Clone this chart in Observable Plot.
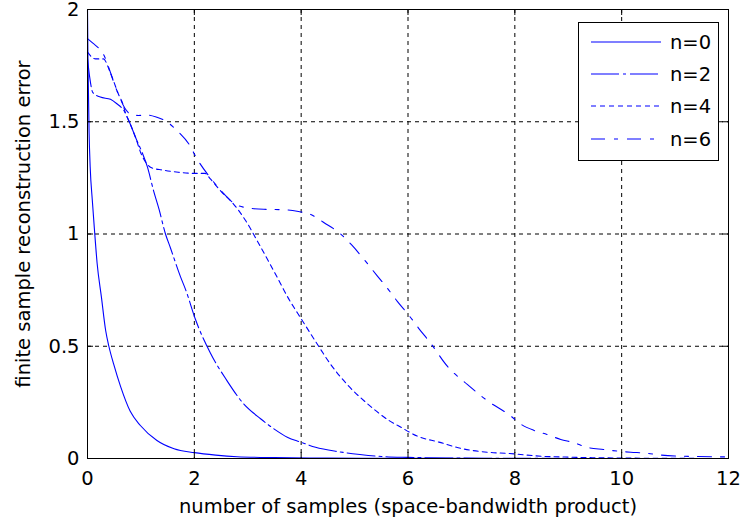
<!DOCTYPE html>
<html><head><meta charset="utf-8">
<script src="https://cdn.jsdelivr.net/npm/d3@7"></script>
<script src="https://cdn.jsdelivr.net/npm/@observablehq/plot@0.6"></script>
<style>
body{margin:0;background:#fff;}
#chart{position:relative;width:740px;height:530px;background:#fff;}
#legend{position:absolute;left:578px;top:22px;}
</style></head><body><div id="chart"></div>
<script>
const xTicks = [0, 2, 4, 6, 8, 10, 12];
const yTicks = [0, 0.5, 1, 1.5, 2];
const seriesNames = ["n=0", "n=2", "n=4", "n=6"];
const xLabel = "number of samples (space-bandwidth product)";
const yLabel = "finite sample reconstruction error";

const n0x = [0, 0.01, 0.03, 0.05, 0.09, 0.13, 0.18, 0.26, 0.34, 0.40, 0.49, 0.62, 0.80, 0.99, 1.3, 1.62, 2.0, 2.4, 2.8, 3.5, 4.5, 6, 8, 10, 12];
const n0y = [2.0, 1.75, 1.45, 1.3, 1.15, 1.02, 0.87, 0.72, 0.57, 0.50, 0.42, 0.32, 0.21, 0.147, 0.08, 0.043, 0.026, 0.015, 0.008, 0.004, 0.002, 0.001, 0, 0, 0];

const n2x = [0, 0.04, 0.1, 0.24, 0.43, 0.55, 0.68, 0.8, 0.9, 1.02, 1.12, 1.24, 1.34, 1.46, 1.55, 1.74, 1.84, 2.02, 2.3, 2.61, 2.9, 3.24, 3.49, 3.74, 3.99, 4.27, 4.68, 5.1, 5.5, 6, 7, 8, 10, 12];
const n2y = [1.78, 1.70, 1.63, 1.61, 1.60, 1.58, 1.55, 1.49, 1.43, 1.365, 1.30, 1.19, 1.11, 1.0, 0.94, 0.81, 0.75, 0.62, 0.47, 0.347, 0.25, 0.177, 0.132, 0.095, 0.073, 0.05, 0.031, 0.018, 0.009, 0.005, 0.002, 0.001, 0, 0];

const n4x = [0, 0.15, 0.3, 0.4, 0.49, 0.59, 0.65, 0.71, 0.8, 0.9, 1.0, 1.09, 1.2, 1.4, 1.7, 2.0, 2.2, 2.3, 2.5, 2.71, 2.96, 3.2, 3.5, 3.77, 4.02, 4.3, 4.55, 4.86, 5.24, 5.64, 5.86, 6.17, 6.58, 6.99, 7.48, 7.9, 8.5, 9, 10, 12];
const n4y = [1.81, 1.78, 1.78, 1.735, 1.68, 1.617, 1.587, 1.54, 1.49, 1.43, 1.36, 1.32, 1.295, 1.285, 1.275, 1.27, 1.27, 1.245, 1.19, 1.14, 1.06, 0.96, 0.83, 0.71, 0.615, 0.51, 0.42, 0.33, 0.244, 0.17, 0.14, 0.10, 0.073, 0.045, 0.028, 0.022, 0.01, 0.006, 0.002, 0];

const n6x = [0, 0.1, 0.2, 0.3, 0.4, 0.5, 0.6, 0.7, 0.8, 0.95, 1.12, 1.3, 1.45, 1.68, 1.9, 2.05, 2.3, 2.55, 2.75, 2.95, 3.3, 3.7, 3.95, 4.18, 4.43, 4.74, 4.95, 5.2, 5.42, 5.61, 5.8, 6.02, 6.2, 6.42, 6.74, 7.11, 7.5, 7.92, 8.1, 8.36, 8.6, 8.86, 9.1, 9.35, 9.66, 9.92, 10.17, 10.45, 10.7, 11.0, 11.4, 12];
const n6y = [1.87, 1.85, 1.83, 1.80, 1.74, 1.67, 1.61, 1.56, 1.535, 1.528, 1.53, 1.52, 1.505, 1.46, 1.40, 1.335, 1.25, 1.18, 1.135, 1.118, 1.11, 1.108, 1.10, 1.087, 1.05, 1.0, 0.95, 0.88, 0.815, 0.76, 0.70, 0.637, 0.58, 0.515, 0.41, 0.33, 0.255, 0.19, 0.155, 0.125, 0.107, 0.085, 0.071, 0.05, 0.04, 0.033, 0.028, 0.024, 0.016, 0.011, 0.009, 0.007];

const seriesX = [n0x, n2x, n4x, n6x];
const seriesY = [n0y, n2y, n4y, n6y];
const dashes = [null, "28,4,3,4", "5,4", "14,9,4,9"];
const blue = "#0000ff";

const rows = seriesNames.map((name, i) => seriesX[i].map((x, j) => ({x, y: seriesY[i][j], series: name})));

const font = "DejaVu Sans";
const fs = 19.5;
const chart = Plot.plot({
  width: 740, height: 530,
  marginLeft: 87, marginRight: 12, marginTop: 9, marginBottom: 72,
  x: {domain: [0, 12]},
  y: {domain: [0, 2]},
  style: {fontFamily: font, fontSize: fs + "px", color: "black", background: "white", overflow: "visible"},
  marks: [
    Plot.gridX(xTicks.slice(1, -1), {stroke: "black", strokeOpacity: 1, strokeDasharray: "4,4"}),
    Plot.gridY(yTicks.slice(1, -1), {stroke: "black", strokeOpacity: 1, strokeDasharray: "4,4"}),
    ...rows.map((r, i) => Plot.line(r, {x: "x", y: "y", stroke: blue, strokeWidth: 1.1, strokeDasharray: dashes[i], curve: "monotone-x"})),
    Plot.frame({stroke: "black", strokeWidth: 1}),
    Plot.tickX(xTicks, {x: d => d, insetTop: 443, stroke: "black"}),
    Plot.tickX(xTicks, {x: d => d, insetBottom: 443, stroke: "black"}),
    Plot.tickY(yTicks, {y: d => d, insetRight: 635, stroke: "black"}),
    Plot.tickY(yTicks, {y: d => d, insetLeft: 635, stroke: "black"}),
    Plot.axisX(xTicks, {tickSize: 0, tickPadding: 13, label: null, tickFormat: d => String(d)}),
    Plot.axisY(yTicks, {tickSize: 0, tickPadding: 8, label: null, tickFormat: d => String(d)}),
    Plot.text([xLabel], {frameAnchor: "bottom", text: d => d, dy: 54, fontSize: fs}),
    Plot.text([yLabel], {frameAnchor: "left", textAnchor: "middle", text: d => d, rotate: -90, dx: -64, dy: -10, fontSize: fs})
  ]
});
const container = document.getElementById("chart");
container.appendChild(chart);

// legend overlay
const lg = d3.select(container).append("div").attr("id", "legend")
  .append("svg").attr("width", 141).attr("height", 139)
  .style("font-family", font).style("font-size", fs + "px");
lg.append("rect").attr("x", 0.5).attr("y", 0.5).attr("width", 140).attr("height", 138)
  .attr("fill", "white").attr("stroke", "black");
const rowY = [20, 52, 84, 117];
seriesNames.forEach((name, i) => {
  lg.append("line").attr("x1", 13).attr("x2", 83).attr("y1", rowY[i]).attr("y2", rowY[i])
    .attr("stroke", blue).attr("stroke-width", 1.1).attr("stroke-dasharray", dashes[i]);
  lg.append("text").attr("x", 92).attr("y", rowY[i]).attr("dy", "0.35em").text(name);
});
</script></body></html>
